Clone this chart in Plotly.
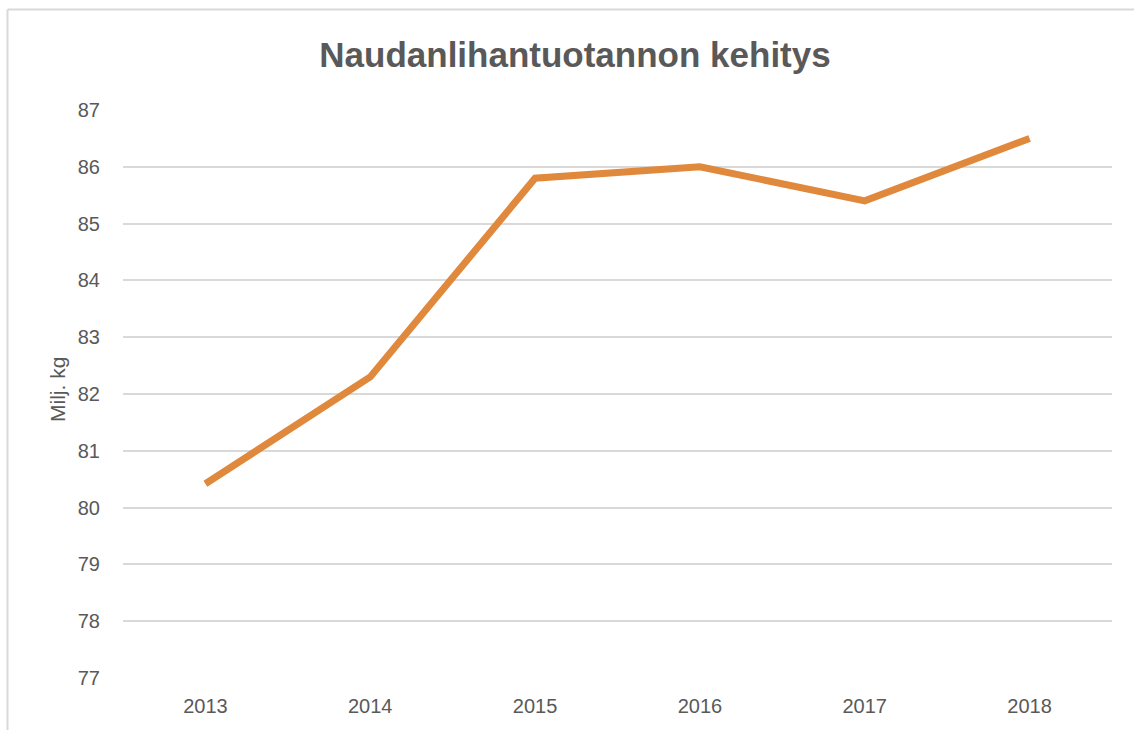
import plotly.graph_objects as go

years = ["2013", "2014", "2015", "2016", "2017", "2018"]
production = [80.42, 82.3, 85.8, 86.0, 85.4, 86.5]
title_text = "Naudanlihantuotannon kehitys"
y_label = "Milj. kg"

FONT = "Liberation Sans Narrow, Arial Narrow, Liberation Sans, Arial, sans-serif"
GRID = "#D9D9D9"
TXT = "#595959"

fig = go.Figure()
fig.add_trace(go.Scatter(
    x=years, y=production, mode="lines",
    line=dict(color="#E0883B", width=7),
    hoverinfo="x+y", showlegend=False,
))

W, H = 1134, 730
L, R, T, B = 123, 22, 110, 52
pw, ph = W - L - R, H - T - B

def px_x(p):
    return (p - L) / pw

def px_y(p):
    return (H - B - p) / ph

fig.update_layout(
    width=W, height=H,
    margin=dict(l=L, r=R, t=T, b=B),
    paper_bgcolor="white", plot_bgcolor="white",
    font=dict(family=FONT, color=TXT, size=20),
    title=dict(text="<b>" + title_text + "</b>", x=575 / W, xref="container", xanchor="center",
               y=1 - 55 / H, yanchor="middle",
               font=dict(family=FONT, size=35, color=TXT)),
    xaxis=dict(type="category", range=[-0.5, 5.5], showgrid=False, zeroline=False,
               showline=False, ticks="", tickfont=dict(size=20, color=TXT),
               ticklabelstandoff=14),
    yaxis=dict(range=[77, 87], dtick=1, showgrid=True, gridcolor=GRID, gridwidth=1.5,
               zeroline=False, showline=False, ticks="", tickfont=dict(size=20, color=TXT),
               ticklabelstandoff=22),
    annotations=[dict(text=y_label, xref="paper", yref="paper", x=px_x(57), y=px_y(390),
                      textangle=-90, showarrow=False, xanchor="center", yanchor="middle",
                      font=dict(family=FONT, size=21, color=TXT))],
    shapes=[
        dict(type="line", xref="paper", yref="paper", x0=px_x(7.5), x1=px_x(1134), y0=px_y(9.5), y1=px_y(9.5),
             line=dict(color=GRID, width=2), layer="below"),
        dict(type="line", xref="paper", yref="paper", x0=px_x(7.5), x1=px_x(7.5), y0=px_y(9.5), y1=px_y(730),
             line=dict(color=GRID, width=2), layer="below"),
    ],
)

fig.write_html("out.html", config={"displayModeBar": False},
               post_script="document.body.style.margin='0';document.body.style.overflow='hidden';")
